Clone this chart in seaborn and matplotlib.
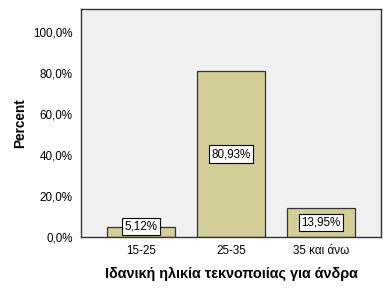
import matplotlib
matplotlib.use("Agg")
import matplotlib.pyplot as plt
import seaborn as sns
import pandas as pd

categories = ["15-25", "25-35", "35 και άνω"]
percents = [5.12, 80.93, 13.95]
value_labels = ["5,12%", "80,93%", "13,95%"]
ytick_values = [0, 20, 40, 60, 80, 100]
ytick_labels = ["0,0%", "20,0%", "40,0%", "60,0%", "80,0%", "100,0%"]

sns.set_style("white")
plt.rcParams['font.family'] = ['Liberation Sans', 'DejaVu Sans']

df = pd.DataFrame({"cat": categories, "pct": percents})

fig = plt.figure(figsize=(3.86, 2.95), dpi=100)
ax = fig.add_axes([81/386, 1-237/295, 300/386, 228/295])
ax.set_facecolor("#F0F0F0")

sns.barplot(data=df, x="cat", y="pct", color="#D3CE97", saturation=1,
            width=0.756, edgecolor="#333333", linewidth=0.9, ax=ax)

for i, (v, lab) in enumerate(zip(percents, value_labels)):
    ax.text(i, max(v / 2, 5), lab, ha="center", va="center", fontsize=8.4, color="black",
            bbox=dict(boxstyle="square,pad=0.22", fc="white", ec="black", lw=0.8))

ax.set_xlim(-0.667, 2.667)
ax.set_ylim(0, 111.2)
ax.set_yticks(ytick_values)
ax.set_yticklabels(ytick_labels)
ax.tick_params(axis="both", direction="out", length=5, width=1.2, color="#333333",
               labelsize=8.4, labelcolor="black", pad=1)
for s in ax.spines.values():
    s.set_color("#333333")
    s.set_linewidth(1.0)

ax.set_xlabel("Ιδανική ηλικία τεκνοποιίας για άνδρα", fontsize=10.4, fontweight="bold",
              labelpad=7, color="black")
ax.set_ylabel("Percent", fontsize=9.8, fontweight="bold", labelpad=4, color="black")

fig.savefig("out.png", dpi=100)
